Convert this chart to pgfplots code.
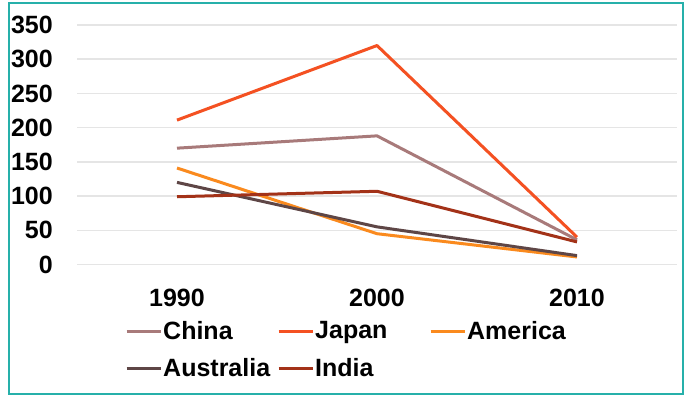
\documentclass[border=0pt]{standalone}
\usepackage{pgfplots}
\pgfplotsset{compat=1.18}
\usepackage{fontspec}
\setmainfont{Liberation Sans}
\definecolor{cChina}{RGB}{168,122,122}
\definecolor{cJapan}{RGB}{244,81,34}
\definecolor{cAmerica}{RGB}{250,138,30}
\definecolor{cAustralia}{RGB}{94,70,70}
\definecolor{cIndia}{RGB}{163,50,24}
\definecolor{frame}{RGB}{38,176,170}
\newcommand\lt[1]{\makebox[115bp][l]{\hspace{1bp}#1}}
\begin{document}
\begin{tikzpicture}
\useasboundingbox (0,0) rectangle (689bp,397bp);
\fill[white] (0,0) rectangle (689bp,397bp);
\draw[frame, line width=2bp] (9bp,3bp) rectangle (683bp,394bp);
\begin{axis}[
  at={(77bp,132.5bp)}, anchor=south west,
  scale only axis, width=600bp, height=239.5bp,
  xmin=-0.5, xmax=2.5, ymin=0, ymax=350,
  xtick={0,1,2}, xticklabels={1990,2000,2010},
  ytick={0,50,...,350},
  axis line style={draw=none},
  major tick length=0pt,
  ymajorgrids, grid style={draw=black!10, line width=1.5bp},
  /pgf/number format/assume math mode=true,
  tick label style={font=\fontsize{25bp}{29bp}\selectfont\bfseries, inner sep=0pt},
  yticklabel style={anchor=east, xshift=-24bp},
  xticklabel style={anchor=north, yshift=-24bp},
  legend columns=3,
  legend style={draw=none, fill=none, at={(axis description cs:0.08,-0.236)}, anchor=north west,
    font=\fontsize{25bp}{29bp}\selectfont\bfseries, column sep=0pt, row sep=18bp, inner sep=0pt,
    nodes={inner sep=0pt}},
  legend image code/.code={\draw[#1, line width=3bp] (0bp,0bp) -- (34bp,0bp);},
  every axis plot/.append style={line width=3bp, line join=round},
]
\addplot[cChina, no marks] coordinates {(0,170) (1,188) (2,36)};
\addlegendentry{\lt{China}}
\addplot[cJapan, no marks] coordinates {(0,211) (1,320) (2,40)};
\addlegendentry{\lt{Japan}}
\addplot[cAmerica, no marks] coordinates {(0,141) (1,45) (2,11)};
\addlegendentry{\lt{America}}
\addplot[cAustralia, no marks] coordinates {(0,120) (1,55) (2,13)};
\addlegendentry{\lt{Australia}}
\addplot[cIndia, no marks] coordinates {(0,99) (1,107) (2,33)};
\addlegendentry{\lt{India}}
\end{axis}
\end{tikzpicture}
\end{document}
